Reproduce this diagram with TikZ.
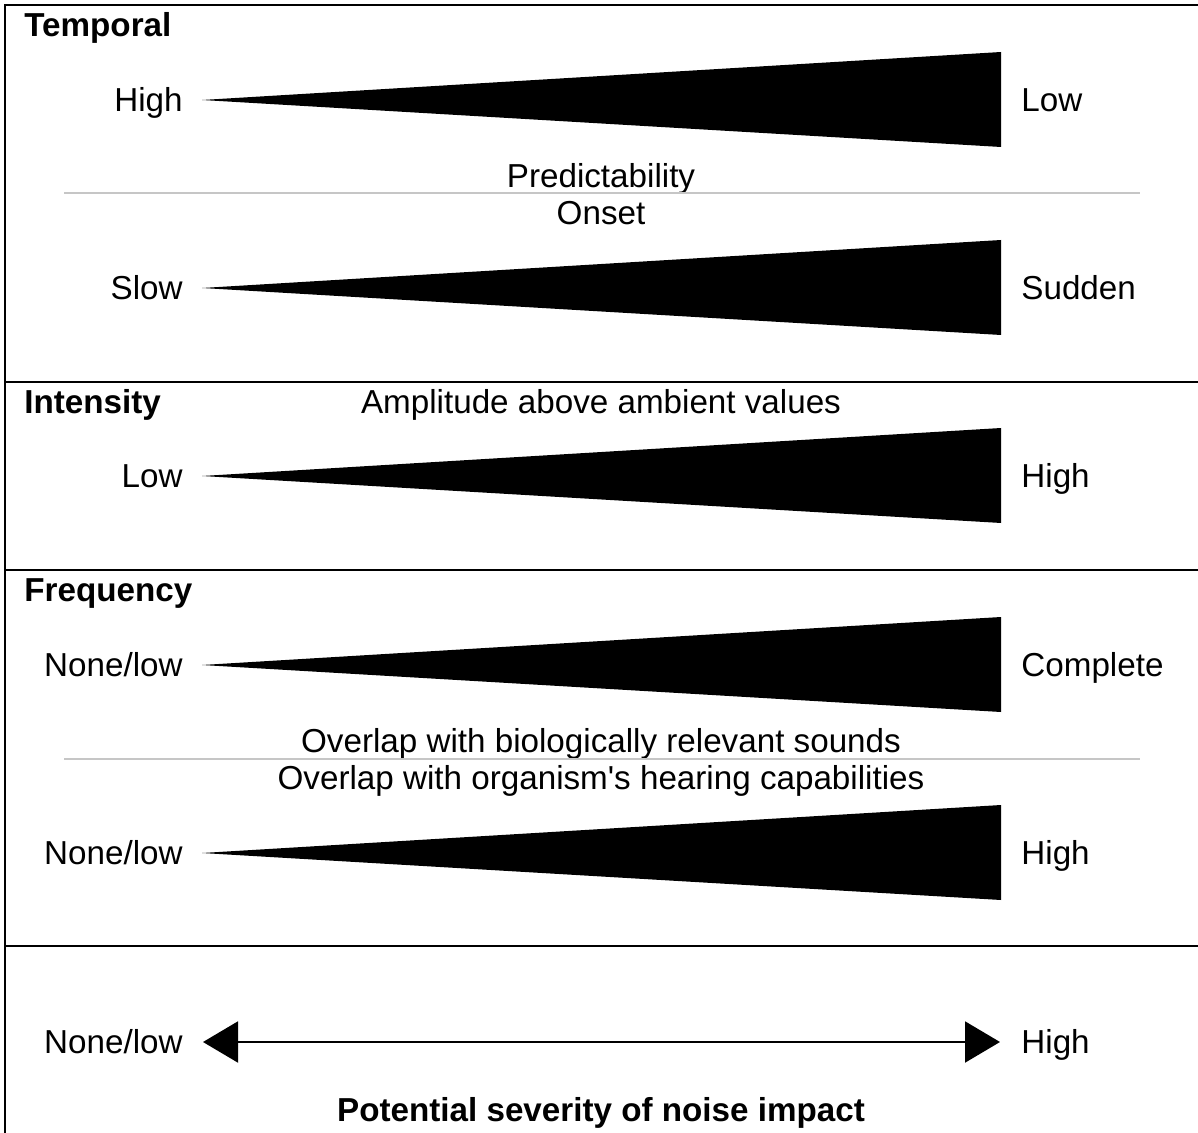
\documentclass[tikz,border=0pt]{standalone}
\usepackage{fontspec}
\setmainfont{Liberation Sans}
\usetikzlibrary{arrows.meta}

\begin{document}
\begin{tikzpicture}[x=0.5pt, y=-0.5pt,
	lbl/.style={font=\fontsize{16.6}{20}\selectfont, inner sep=0pt, text height=11.9pt, text depth=0pt},
	heading/.style={lbl, font=\fontsize{16.6}{20}\selectfont\bfseries, anchor=west},
	frame/.style={line width=1.4pt},
	sepline/.style={line width=1pt, gray!45}]
	\useasboundingbox (0,0) rectangle (1198,1133);
	
	% Frame and section borders
	\draw[frame] (5,1133) -- (5,5) -- (1198,5);
	\draw[frame] (5,382) -- (1198,382);
	\draw[frame] (5,570) -- (1198,570);
	\draw[frame] (5,946) -- (1198,946);
	
	% Section headings
	\node[heading] (temporal) at (24,25) {Temporal};
	\node[heading] (intensity) at (24,402) {Intensity};
	\node[heading] (frequency) at (24,590) {Frequency};
	
	% Predictability
	\node[lbl, anchor=east] (predL) at (183,100) {High};
	\node[lbl, anchor=west] (predR) at (1021,100) {Low};
	\fill (202,100) -- (1001,52) -- (1001,147) -- cycle;
	\node[lbl] (pred) at (601,176) {Predictability};
	
	\draw[sepline] (64,193) -- (1140,193);
	
	% Onset
	\node[lbl] (onset) at (601,213) {Onset};
	\node[lbl, anchor=east] (onsetL) at (183,288) {Slow};
	\node[lbl, anchor=west] (onsetR) at (1021,288) {Sudden};
	\fill (202,288) -- (1001,240) -- (1001,335) -- cycle;
	
	% Amplitude
	\node[lbl] (ampl) at (601,402) {Amplitude above ambient values};
	\node[lbl, anchor=east] (amplL) at (183,476) {Low};
	\node[lbl, anchor=west] (amplR) at (1021,476) {High};
	\fill (202,476) -- (1001,428) -- (1001,523) -- cycle;
	
	% Overlap with sounds
	\node[lbl, anchor=east] (soundL) at (183,665) {None/low};
	\node[lbl, anchor=west] (soundR) at (1021,665) {Complete};
	\fill (202,665) -- (1001,617) -- (1001,712) -- cycle;
	\node[lbl] (sound) at (601,741) {Overlap with biologically relevant sounds};
	
	\draw[sepline] (64,759) -- (1140,759);
	
	% Overlap with hearing
	\node[lbl] (hearing) at (601,778) {Overlap with organism\textquotesingle s hearing capabilities};
	\node[lbl, anchor=east] (hearingL) at (183,853) {None/low};
	\node[lbl, anchor=west] (hearingR) at (1021,853) {High};
	\fill (202,853) -- (1001,805) -- (1001,900) -- cycle;
	
	% Severity
	\node[lbl, anchor=east] (sevL) at (183,1042) {None/low};
	\node[lbl, anchor=west] (sevR) at (1021,1042) {High};
	\draw[line width=1pt, {Triangle[length=17.5pt, width=20.5pt]}-{Triangle[length=17.5pt, width=20.5pt]},
		shorten <=10pt, shorten >=10.5pt] (sevL) -- (sevR);
	\node[lbl, font=\fontsize{16.6}{20}\selectfont\bfseries] (severity) at (601,1110) {Potential severity of noise impact};
	
\end{tikzpicture}
\end{document}
